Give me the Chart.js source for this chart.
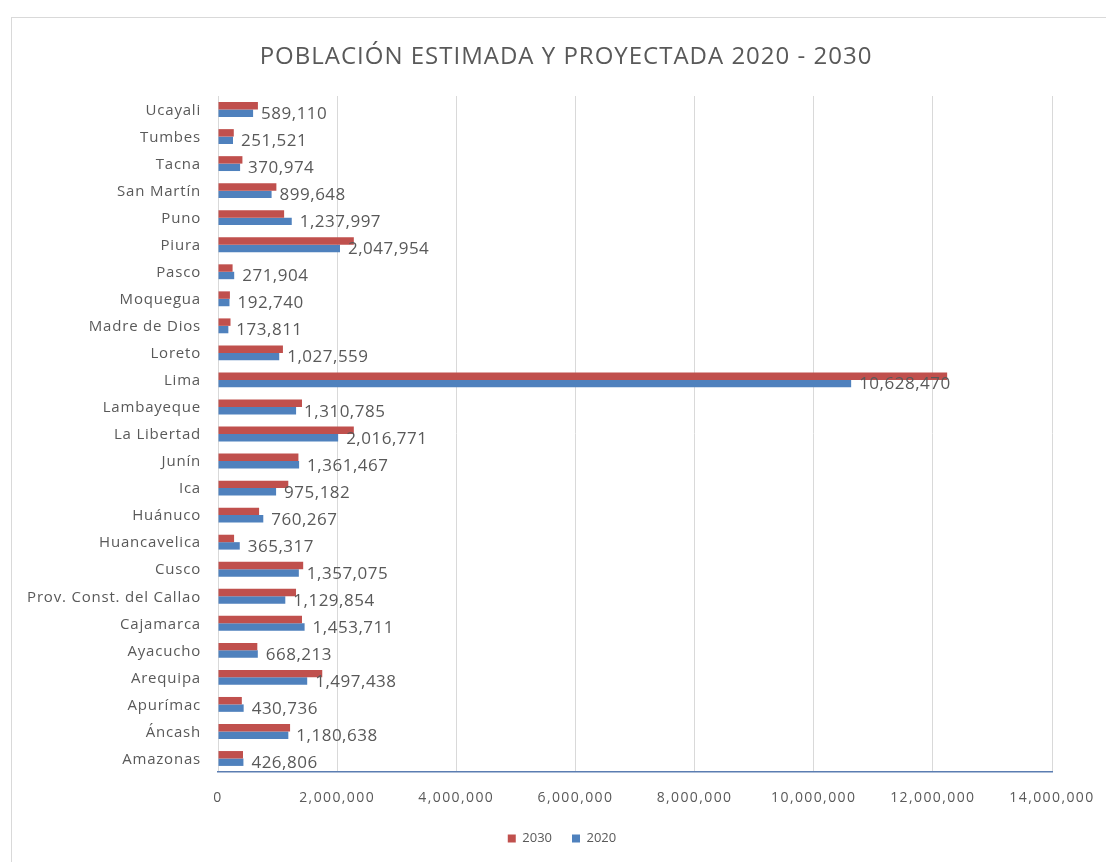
<!DOCTYPE html>
<html lang="es">
<head>
<meta charset="utf-8">
<title>Población estimada y proyectada 2020 - 2030</title>
<script src="https://cdn.jsdelivr.net/npm/chart.js@4.4.1/dist/chart.umd.min.js"></script>
<style>
  html, body { margin: 0; padding: 0; background: #fff; }
  #wrap { position: relative; width: 1106px; height: 862px; overflow: hidden; }
</style>
</head>
<body>
<div id="wrap"><canvas id="chart" width="1106" height="862"></canvas></div>
<script>
const titulo = 'POBLACIÓN ESTIMADA Y PROYECTADA 2020 - 2030';

// Departamentos, de abajo hacia arriba
const departamentos = [
  'Amazonas', 'Áncash', 'Apurímac', 'Arequipa', 'Ayacucho', 'Cajamarca',
  'Prov. Const. del Callao', 'Cusco', 'Huancavelica', 'Huánuco', 'Ica', 'Junín',
  'La Libertad', 'Lambayeque', 'Lima', 'Loreto', 'Madre de Dios', 'Moquegua',
  'Pasco', 'Piura', 'Puno', 'San Martín', 'Tacna', 'Tumbes', 'Ucayali'
];

// Población estimada 2020
const poblacion2020 = [
  426806, 1180638, 430736, 1497438, 668213, 1453711,
  1129854, 1357075, 365317, 760267, 975182, 1361467,
  2016771, 1310785, 10628470, 1027559, 173811, 192740,
  271904, 2047954, 1237997, 899648, 370974, 251521, 589110
];

// Población proyectada 2030
const poblacion2030 = [
  420000, 1210000, 400000, 1750000, 660000, 1410000,
  1310000, 1430000, 270000, 690000, 1180000, 1350000,
  2280000, 1410000, 12240000, 1090000, 210000, 200000,
  245000, 2280000, 1110000, 980000, 410000, 265000, 670000
];

const xTicks = [0, 2000000, 4000000, 6000000, 8000000, 10000000, 12000000, 14000000];

const GRIS = '#595959';
const fmt = v => v.toLocaleString('en-US');

// Marco exterior del gráfico
const marco = {
  id: 'marco',
  beforeDraw(chart) {
    const ctx = chart.ctx;
    ctx.save();
    ctx.strokeStyle = '#d9d9d9';
    ctx.lineWidth = 1;
    ctx.strokeRect(11.5, 17.5, 1200, 1000);
    ctx.restore();
  }
};

// Título, rótulos de ejes y valores 2020 (texto algo espaciado)
const textos = {
  id: 'textos',
  afterDraw(chart) {
    const ctx = chart.ctx;
    const xs = chart.scales.x;
    const ys = chart.scales.y;
    ctx.save();
    ctx.fillStyle = GRIS;
    ctx.textBaseline = 'middle';

    // título
    ctx.font = '24px "Open Sans", sans-serif';
    ctx.letterSpacing = '1px';
    ctx.textAlign = 'center';
    ctx.fillText(titulo, 566, 57);

    // departamentos
    ctx.font = '15px "Open Sans", sans-serif';
    ctx.letterSpacing = '0.8px';
    ctx.textAlign = 'right';
    departamentos.forEach((d, i) => {
      ctx.fillText(d, xs.left - 17, ys.getPixelForValue(i) + 1);
    });

    // eje de población
    ctx.font = '14px "Open Sans", sans-serif';
    ctx.letterSpacing = '1.4px';
    ctx.textAlign = 'center';
    xTicks.forEach(v => {
      ctx.fillText(fmt(v), xs.getPixelForValue(v), xs.top + 26);
    });

    // valores 2020 al final de cada barra azul
    ctx.font = '17px "Open Sans", sans-serif';
    ctx.letterSpacing = '0.5px';
    ctx.textAlign = 'left';
    chart.getDatasetMeta(1).data.forEach((bar, i) => {
      ctx.fillText(fmt(poblacion2020[i]), bar.x + 8, bar.y + 1);
    });
    ctx.restore();
  }
};

new Chart(document.getElementById('chart'), {
  type: 'bar',
  data: {
    labels: departamentos,
    datasets: [
      {
        label: '2030',
        data: poblacion2030,
        backgroundColor: '#c0504d',
        barPercentage: 1,
        categoryPercentage: 0.55
      },
      {
        label: '2020',
        data: poblacion2020,
        backgroundColor: '#4f81bd',
        barPercentage: 1,
        categoryPercentage: 0.55
      }
    ]
  },
  options: {
    indexAxis: 'y',
    responsive: false,
    animation: false,
    layout: { padding: { top: 96, right: 54, bottom: 7, left: 72 } },
    scales: {
      x: {
        min: 0,
        max: 14000000,
        afterBuildTicks(scale) {
          scale.ticks = xTicks.map(v => ({ value: v }));
        },
        afterFit(scale) { scale.height = 40; },
        grid: { color: '#d9d9d9', drawTicks: false },
        border: { display: true, color: '#5b7db1', width: 1.5 },
        ticks: { display: false }
      },
      y: {
        reverse: true,
        afterFit(scale) { scale.width = 146; },
        grid: { display: false, drawTicks: false },
        border: { display: false },
        ticks: { display: false }
      }
    },
    plugins: {
      title: { display: false },
      legend: {
        position: 'bottom',
        labels: {
          boxWidth: 8,
          boxHeight: 8,
          padding: 20,
          color: GRIS,
          font: { family: '"Open Sans", sans-serif', size: 13 }
        }
      },
      tooltip: { enabled: false }
    }
  },
  plugins: [marco, textos]
});
</script>
</body>
</html>
